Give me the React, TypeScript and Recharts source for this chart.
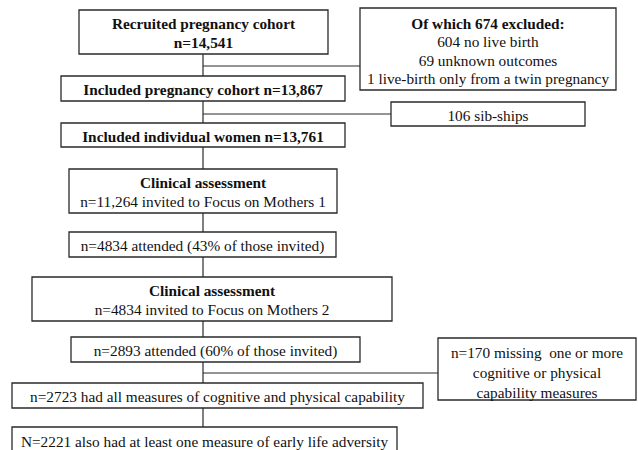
import React from "react";
import {
  ScatterChart,
  Scatter,
  XAxis,
  YAxis,
  ReferenceArea,
  ReferenceLine,
} from "recharts";

// Box texts (first `boldLines` lines are bold)
const boxLines: string[][] = [
  ["Recruited pregnancy cohort", "n=14,541"],
  [
    "Of which 674 excluded:",
    "604 no live birth",
    "69 unknown outcomes",
    "1 live-birth only from a twin pregnancy",
  ],
  ["Included pregnancy cohort n=13,867"],
  ["106 sib-ships"],
  ["Included individual women n=13,761"],
  ["Clinical assessment", "n=11,264 invited to Focus on Mothers 1"],
  ["n=4834 attended (43% of those invited)"],
  ["Clinical assessment", "n=4834 invited to Focus on Mothers 2"],
  ["n=2893 attended (60% of those invited)"],
  ["n=170 missing  one or more", "cognitive or physical", "capability measures"],
  ["n=2723 had all measures of cognitive and physical capability"],
  ["N=2221 also had at least one measure of early life adversity"],
];
const boldLines = [2, 1, 1, 0, 1, 1, 0, 1, 0, 0, 0, 0];

// Flow: main column boxes and side exclusions
const mainFlow = [0, 2, 4, 5, 6, 7, 8, 10, 11];
const sideFlow = [
  { box: 1, y: 66 },
  { box: 3, y: 114 },
  { box: 9, y: 373 },
];

// Layout (chart units = pixels)
const W = 638;
const H = 450;
const STEM_X = 203;
const layout = [
  { x1: 79, x2: 328, y1: 10, y2: 54, lh: 19, dy: 1 },
  { x1: 360, x2: 616, y1: 8, y2: 90, lh: 18.5, dy: 2 },
  { x1: 61, x2: 345, y1: 76, y2: 101, lh: 19, dy: 1 },
  { x1: 391, x2: 585, y1: 102, y2: 126, lh: 19, dy: 1 },
  { x1: 61, x2: 345, y1: 123, y2: 147, lh: 19, dy: 1 },
  { x1: 69, x2: 337, y1: 169, y2: 213, lh: 19, dy: 1 },
  { x1: 69, x2: 336, y1: 232, y2: 257, lh: 19, dy: 1 },
  { x1: 32, x2: 392, y1: 277, y2: 321, lh: 19, dy: 1 },
  { x1: 71, x2: 360, y1: 337, y2: 362, lh: 19, dy: 1 },
  { x1: 438, x2: 636, y1: 338, y2: 400, lh: 20, dy: 3 },
  { x1: 12, x2: 423, y1: 383, y2: 408, lh: 19, dy: 1 },
  { x1: 12, x2: 397, y1: 427, y2: 452, lh: 19, dy: 1.5 },
];

const INK = "#2a2a2a";
const FONT = "'Liberation Serif', 'Times New Roman', serif";

const BoxLabel = (props: any) => {
  const { viewBox, lines, bold, lh, dy } = props;
  if (!viewBox) return null;
  const cx = viewBox.x + viewBox.width / 2;
  const cy = viewBox.y + viewBox.height / 2 + dy;
  return (
    <g>
      {lines.map((t: string, i: number) => (
        <text
          key={i}
          x={cx}
          y={cy + (i - (lines.length - 1) / 2) * lh}
          textAnchor="middle"
          dominantBaseline="central"
          fontFamily={FONT}
          fontSize={15.3}
          fontWeight={i < bold ? "bold" : "normal"}
          fill="#111"
          style={{ whiteSpace: "pre" }}
        >
          {t}
        </text>
      ))}
    </g>
  );
};

export default function App() {
  const anchors = layout.map((b) => ({ x: (b.x1 + b.x2) / 2, y: (b.y1 + b.y2) / 2 }));

  return (
    <div style={{ position: "fixed", left: 0, top: 0, background: "#fff" }}>
      <ScatterChart width={W} height={H} margin={{ top: 0, right: 0, bottom: 0, left: 0 }}>
        <XAxis type="number" dataKey="x" domain={[0, W]} hide allowDataOverflow />
        <YAxis type="number" dataKey="y" domain={[0, H]} reversed hide allowDataOverflow />
        {mainFlow.slice(1).map((b, i) => (
          <ReferenceLine
            key={`stem-${i}`}
            segment={[
              { x: STEM_X, y: layout[mainFlow[i]].y2 },
              { x: STEM_X, y: layout[b].y1 },
            ]}
            stroke={INK}
            strokeWidth={1.2}
            ifOverflow="visible"
          />
        ))}
        {sideFlow.map((s, i) => (
          <ReferenceLine
            key={`side-${i}`}
            segment={[
              { x: STEM_X, y: s.y },
              { x: layout[s.box].x1, y: s.y },
            ]}
            stroke={INK}
            strokeWidth={1.2}
            ifOverflow="visible"
          />
        ))}
        {layout.map((b, i) => (
          <ReferenceArea
            key={`box-${i}`}
            x1={b.x1}
            x2={b.x2}
            y1={b.y1}
            y2={b.y2}
            fill="#fff"
            fillOpacity={1}
            stroke={INK}
            strokeWidth={1.3}
            ifOverflow="visible"
            label={<BoxLabel lines={boxLines[i]} bold={boldLines[i]} lh={b.lh} dy={b.dy} />}
          />
        ))}
        <Scatter data={anchors} shape={() => null} isAnimationActive={false} />
      </ScatterChart>
    </div>
  );
}
